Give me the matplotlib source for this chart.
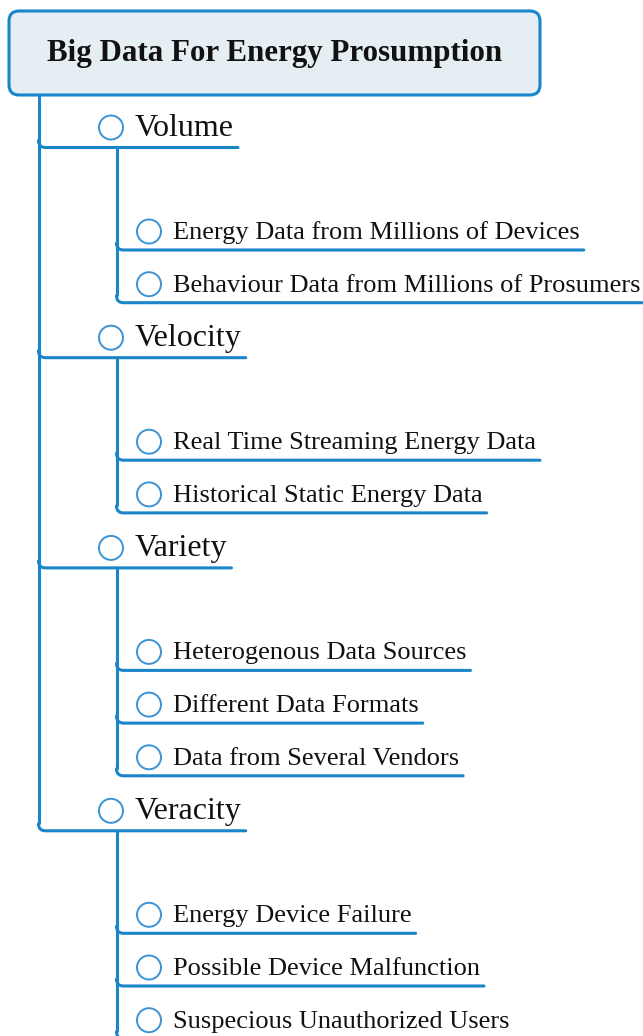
import matplotlib.pyplot as plt
from matplotlib.patches import FancyBboxPatch, Circle, PathPatch
from matplotlib.path import Path

plt.rcParams['font.family'] = ['Liberation Serif', 'DejaVu Serif']

# ------------------------------------------------------------
# mind map content
# ------------------------------------------------------------
title = "Big Data For Energy Prosumption"
groups = ["Volume", "Velocity", "Variety", "Veracity"]
volume_items = ["Energy Data from Millions of Devices",
                "Behaviour Data from Millions of Prosumers"]
velocity_items = ["Real Time Streaming Energy Data",
                  "Historical Static Energy Data"]
variety_items = ["Heterogenous Data Sources",
                 "Different Data Formats",
                 "Data from Several Vendors"]
veracity_items = ["Energy Device Failure",
                  "Possible Device Malfunction",
                  "Suspecious Unauthorized Users"]
children = [volume_items, velocity_items, variety_items, veracity_items]

# ------------------------------------------------------------
# style / layout (pixels, y downwards)
# ------------------------------------------------------------
W, H = 643, 1036
LINE = '#1a85c8'
RING = '#3b93d3'
BOX_FILL = '#e5eef2'
LW = 2.2
R = 7            # corner radius of connectors
TRUNK_X = 38.5
SUB_X = 116.5
first_y = 147.5
gap_child = 102.5
step_child = 52.7
gap_group = 55

fig = plt.figure(figsize=(W / 100, H / 100), dpi=100)
ax = fig.add_axes([0, 0, 1, 1])
ax.set_xlim(0, W)
ax.set_ylim(H, 0)
ax.axis('off')
renderer = fig.canvas.get_renderer()


def elbow(x0, y, x1):
    # curve from the vertical line into a horizontal underline
    verts = [(x0, y - R), (x0, y), (x0 + R, y), (x1, y)]
    codes = [Path.MOVETO, Path.CURVE3, Path.CURVE3, Path.LINETO]
    ax.add_patch(PathPatch(Path(verts, codes), fill=False, edgecolor=LINE,
                           lw=LW, capstyle='round', joinstyle='round',
                           zorder=2))


def node(x_vert, y, label, cx, tx, size, dy_circ, dy_text):
    ax.add_patch(Circle((cx, y - dy_circ), 12, facecolor='white',
                        edgecolor=RING, lw=1.4, zorder=3))
    t = ax.text(tx, y - dy_text, label, fontsize=size, color='#111111',
                ha='left', va='baseline', zorder=3)
    bb = t.get_window_extent(renderer)
    x_end = min(bb.x1 + 4, W)
    elbow(x_vert, y, x_end)


# title box
ax.add_patch(FancyBboxPatch((9, 11), 531, 84,
                            boxstyle='round,pad=0,rounding_size=10',
                            facecolor=BOX_FILL, edgecolor=LINE, lw=2.2,
                            zorder=2))
ax.text(274.5, 53, title, fontsize=22.3, fontweight='bold', color='#111111',
        ha='center', va='center', zorder=3)

y = first_y
group_y = []
for g, items in zip(groups, children):
    group_y.append(y)
    node(TRUNK_X, y, g, 111, 135, 23, 20, 11.5)
    cy = y + gap_child
    child_y = []
    for it in items:
        child_y.append(cy)
        node(SUB_X, cy, it, 149, 173, 19, 18.5, 11)
        cy += step_child
    # vertical connector for the children
    ax.plot([SUB_X, SUB_X], [y, child_y[-1] - R], color=LINE, lw=LW,
            solid_capstyle='butt', zorder=2)
    y = child_y[-1] + gap_group

# main trunk
ax.plot([TRUNK_X, TRUNK_X], [95, group_y[-1] - R], color=LINE, lw=LW,
        solid_capstyle='butt', zorder=2)

fig.savefig('out.png', dpi=100)
